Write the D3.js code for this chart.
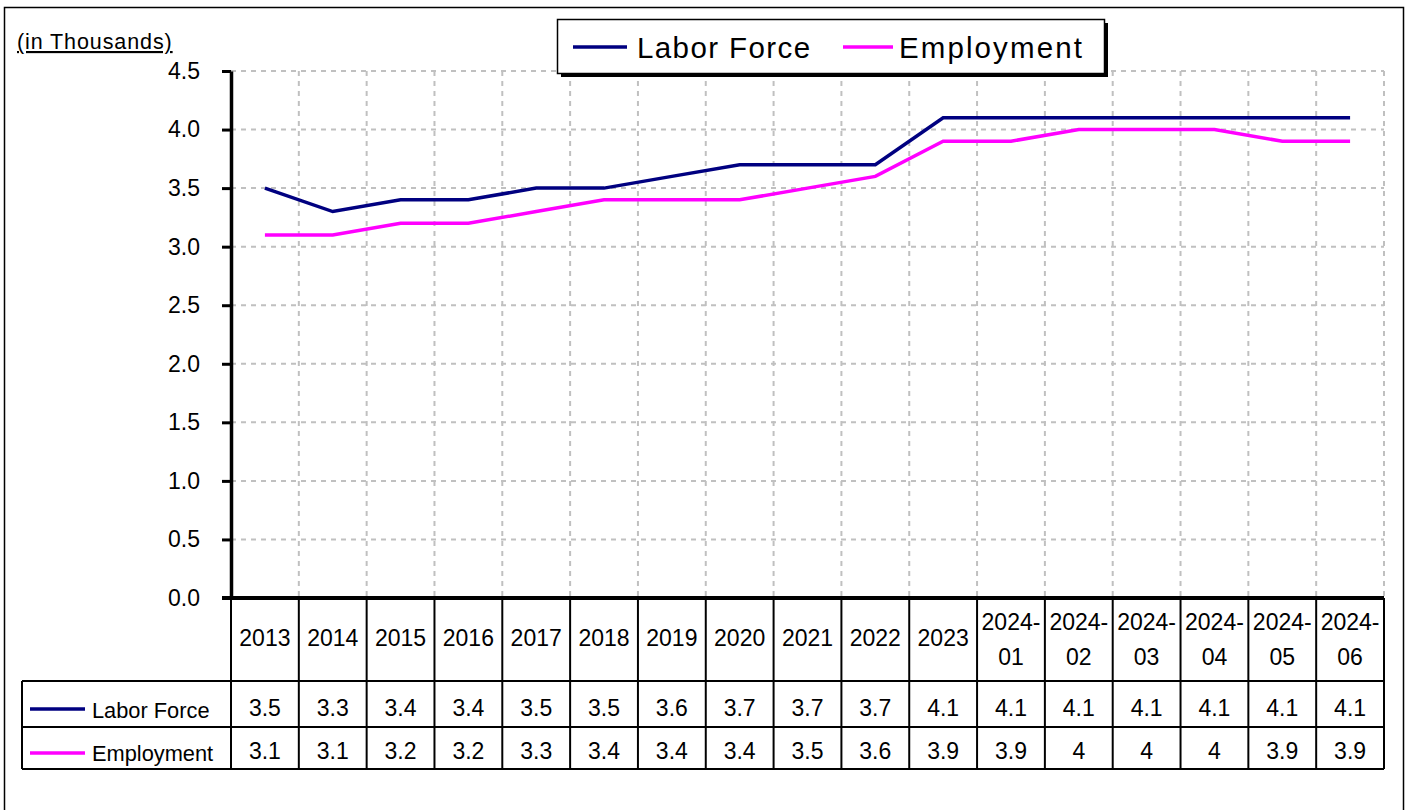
<!DOCTYPE html>
<html>
<head>
<meta charset="utf-8">
<script src="https://cdn.jsdelivr.net/npm/d3@7"></script>
<style>
  html, body { margin: 0; padding: 0; background: #fff; }
  svg { display: block; font-family: "Liberation Sans", Arial, sans-serif; }
</style>
</head>
<body>
<svg id="chart" width="1411" height="810"></svg>
<script>
// Periods shown on the category axis (header row of the data table)
const categories = ["2013","2014","2015","2016","2017","2018","2019","2020","2021","2022","2023",
  "2024-01","2024-02","2024-03","2024-04","2024-05","2024-06"];
// Values in thousands
const laborForce = [3.5,3.3,3.4,3.4,3.5,3.5,3.6,3.7,3.7,3.7,4.1,4.1,4.1,4.1,4.1,4.1,4.1];
const employment = [3.1,3.1,3.2,3.2,3.3,3.4,3.4,3.4,3.5,3.6,3.9,3.9,4,4,4,3.9,3.9];
const yTicks = [0,0.5,1,1.5,2,2.5,3,3.5,4,4.5];

const series = [
  { name: "Labor Force", values: laborForce, color: "#000080" },
  { name: "Employment", values: employment, color: "#ff00ff" }
];

const svg = d3.select("#chart");
const plot = { left: 231, right: 1384, top: 71, bottom: 598 };
const textSize = 23;

const x = d3.scaleBand().domain(categories).range([plot.left, plot.right]).padding(0);
const y = d3.scaleLinear().domain([0, 4.5]).range([plot.bottom, plot.top]);

// Outer frame
svg.append("rect").attr("x", 4.5).attr("y", 7.5).attr("width", 1399).attr("height", 820)
  .attr("fill", "none").attr("stroke", "#000").attr("stroke-width", 1.5);

// Unit caption
svg.append("text").attr("x", 17).attr("y", 49).attr("font-size", 21.5)
  .attr("letter-spacing", 0.9).attr("text-decoration", "underline").attr("fill", "#000")
  .text("(in Thousands)");

// Grid
const grid = svg.append("g").attr("stroke", "#c0c0c0").attr("stroke-width", 2)
  .attr("stroke-dasharray", "5,5");
grid.selectAll("line.h").data(yTicks.filter(d => d > 0)).join("line").attr("class", "h")
  .attr("x1", plot.left).attr("x2", plot.right)
  .attr("y1", d => y(d)).attr("y2", d => y(d));
grid.selectAll("line.v").data(categories).join("line").attr("class", "v")
  .attr("x1", d => x(d) + x.bandwidth()).attr("x2", d => x(d) + x.bandwidth())
  .attr("y1", plot.top).attr("y2", plot.bottom);

// Y axis
const yAxis = svg.append("g").attr("transform", `translate(${plot.left},0)`)
  .call(d3.axisLeft(y).tickValues(yTicks).tickFormat(d3.format(".1f")).tickSize(9).tickPadding(22).tickSizeOuter(0));
yAxis.select(".domain").attr("stroke", "#000").attr("stroke-width", 3.5);
yAxis.selectAll(".tick line").attr("stroke", "#000").attr("stroke-width", 3);
yAxis.selectAll(".tick text").attr("font-size", textSize).attr("fill", "#000")
  .attr("font-family", "Liberation Sans, Arial, sans-serif");

// Lines
const line = d3.line()
  .x((d, i) => x(categories[i]) + x.bandwidth() / 2)
  .y(d => y(d));
svg.selectAll("path.series").data(series).join("path").attr("class", "series")
  .attr("fill", "none").attr("stroke", d => d.color).attr("stroke-width", 3.5)
  .attr("stroke-linejoin", "miter")
  .attr("d", d => line(d.values));

// Data table
const table = { left: 22, headerBottom: 681, row1Bottom: 727, row2Bottom: 769 };
const tg = svg.append("g").attr("stroke", "#000").attr("stroke-width", 2);
tg.selectAll("line.col").data([plot.left, ...categories.map(c => x(c) + x.bandwidth())]).join("line")
  .attr("class", "col").attr("x1", d => d).attr("x2", d => d)
  .attr("y1", plot.bottom).attr("y2", table.row2Bottom);
tg.selectAll("line.row").data([table.headerBottom, table.row1Bottom, table.row2Bottom]).join("line")
  .attr("class", "row").attr("x1", table.left).attr("x2", plot.right)
  .attr("y1", d => d).attr("y2", d => d);
tg.append("line").attr("x1", table.left).attr("x2", table.left)
  .attr("y1", table.headerBottom).attr("y2", table.row2Bottom);

// X axis line (top border of table)
svg.append("line").attr("x1", plot.left - 9).attr("x2", plot.right)
  .attr("y1", plot.bottom).attr("y2", plot.bottom)
  .attr("stroke", "#000").attr("stroke-width", 4);

// Header labels
const header = svg.append("g").attr("font-size", textSize).attr("text-anchor", "middle").attr("fill", "#000");
categories.forEach(c => {
  const cx = x(c) + x.bandwidth() / 2;
  const parts = c.split("-");
  if (parts.length === 1) {
    header.append("text").attr("x", cx).attr("y", 646).text(c);
  } else {
    header.append("text").attr("x", cx).attr("y", 630).text(parts[0] + "-");
    header.append("text").attr("x", cx).attr("y", 665).text(parts[1]);
  }
});

// Value rows
const rowBaselines = [716, 759];
const rowKeyY = [709, 753];
series.forEach((s, r) => {
  svg.append("g").attr("font-size", textSize).attr("text-anchor", "middle").attr("fill", "#000")
    .selectAll("text").data(s.values).join("text")
    .attr("x", (d, i) => x(categories[i]) + x.bandwidth() / 2)
    .attr("y", rowBaselines[r])
    .text(d => String(d));
  svg.append("line").attr("x1", 30).attr("x2", 85).attr("y1", rowKeyY[r]).attr("y2", rowKeyY[r])
    .attr("stroke", s.color).attr("stroke-width", 3.5);
  svg.append("text").attr("x", 92).attr("y", rowBaselines[r] + 2).attr("font-size", 21.8)
    .attr("fill", "#000").text(s.name);
});

// Legend
const lg = svg.append("g");
lg.append("rect").attr("x", 561).attr("y", 23).attr("width", 547).attr("height", 54).attr("fill", "#000");
lg.append("rect").attr("x", 557.5).attr("y", 19.5).attr("width", 547).attr("height", 54)
  .attr("fill", "#fff").attr("stroke", "#000").attr("stroke-width", 1.5);
const legendItems = [
  { lineX: 573, lineW: 54, textX: 637, spacing: 1.4 },
  { lineX: 843, lineW: 50, textX: 899, spacing: 2.1 }
];
series.forEach((s, i) => {
  const it = legendItems[i];
  lg.append("line").attr("x1", it.lineX).attr("x2", it.lineX + it.lineW).attr("y1", 47).attr("y2", 47)
    .attr("stroke", s.color).attr("stroke-width", 3.5);
  lg.append("text").attr("x", it.textX).attr("y", 58).attr("font-size", 29.5)
    .attr("letter-spacing", it.spacing).attr("fill", "#000").text(s.name);
});
</script>
</body>
</html>
